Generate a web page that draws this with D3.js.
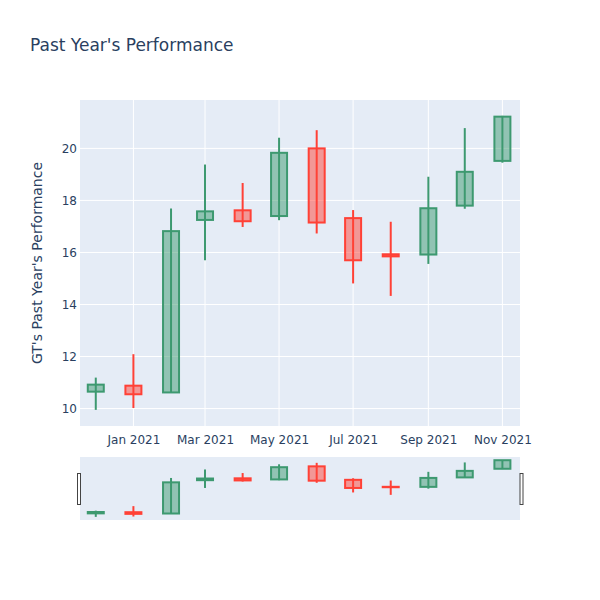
<!DOCTYPE html>
<html><head><meta charset="utf-8">
<script src="https://cdn.jsdelivr.net/npm/d3@7"></script>
<style>body{margin:0;background:#fff;}svg{font-family:"DejaVu Sans",Verdana,Arial,sans-serif;}</style>
</head><body><svg id="c" width="600" height="600"></svg>
<script>
const dates = ["2020-12-01","2021-01-01","2021-02-01","2021-03-01","2021-04-01","2021-05-01","2021-06-01","2021-07-01","2021-08-01","2021-09-01","2021-10-01","2021-11-01"];
const open  = [10.65, 10.88, 10.62, 17.25, 17.62, 17.40, 20.00, 17.32, 15.93, 15.92, 17.80, 19.52];
const high  = [11.19, 12.09, 17.69, 19.38, 18.67, 20.41, 20.70, 17.63, 17.18, 18.91, 20.78, 21.25];
const low   = [ 9.95, 10.02, 10.62, 15.70, 16.98, 17.24, 16.73, 14.81, 14.33, 15.56, 17.68, 19.45];
const close = [10.92, 10.55, 16.82, 17.58, 17.20, 19.83, 17.15, 15.70, 15.85, 17.70, 19.10, 21.22];
const xTicks = ["2021-01-01","2021-03-01","2021-05-01","2021-07-01","2021-09-01","2021-11-01"];
const yTicks = [10, 12, 14, 16, 18, 20];

const parse = d3.utcParse("%Y-%m-%d");
const data = dates.map((d,i)=>({date:parse(d),o:open[i],h:high[i],l:low[i],c:close[i]}));
const svg = d3.select("#c");
const L=80,R=520,T=100,B=426, ST=457, SB=520;
const x = d3.scaleUtc().domain([new Date(Date.UTC(2020,10,18)), new Date(Date.UTC(2021,10,15,12))]).range([L,R]);
const y = d3.scaleLinear().domain([9.33,21.86]).range([B,T]);
const ys = d3.scaleLinear().domain([9.33,21.86]).range([SB,ST]);
const txt="#2a3f5f", inc="#3D9970", dec="#FF4136";

svg.append("rect").attr("x",L).attr("y",T).attr("width",R-L).attr("height",B-T).attr("fill","#E5ECF6");
svg.append("g").selectAll("line").data(yTicks).join("line")
  .attr("x1",L).attr("x2",R).attr("y1",d=>y(d)).attr("y2",d=>y(d)).attr("stroke","#fff").attr("stroke-width",1);
svg.append("g").selectAll("line").data(xTicks.map(parse)).join("line")
  .attr("y1",T).attr("y2",B).attr("x1",d=>x(d)).attr("x2",d=>x(d)).attr("stroke","#fff").attr("stroke-width",1);

const xa = svg.append("g").attr("transform",`translate(0,${B})`)
  .call(d3.axisBottom(x).tickValues(xTicks.map(parse)).tickFormat(d3.utcFormat("%b %Y")).tickSize(0).tickPadding(9));
xa.select(".domain").remove();
xa.selectAll("text").attr("fill",txt).style("font-size","12px").style("font-family","DejaVu Sans");
const ya = svg.append("g").attr("transform",`translate(${L},0)`)
  .call(d3.axisLeft(y).tickValues(yTicks).tickSize(0).tickPadding(3));
ya.select(".domain").remove();
ya.selectAll("text").attr("fill",txt).style("font-size","12px").style("font-family","DejaVu Sans");

function candles(g, ys){
  const bw=16;
  const gg = g.selectAll("g.cd").data(data).join("g").attr("class","cd");
  gg.append("line").attr("x1",d=>x(d.date)).attr("x2",d=>x(d.date))
    .attr("y1",d=>ys(d.h)).attr("y2",d=>ys(d.l))
    .attr("stroke",d=>d.c>=d.o?inc:dec).attr("stroke-width",2);
  gg.append("rect").attr("x",d=>x(d.date)-bw/2).attr("width",bw)
    .attr("y",d=>ys(Math.max(d.o,d.c))).attr("height",d=>Math.max(0.01,Math.abs(ys(d.o)-ys(d.c))))
    .attr("fill",d=>d.c>=d.o?inc:dec).attr("fill-opacity",0.5)
    .attr("stroke",d=>d.c>=d.o?inc:dec).attr("stroke-width",2);
}
svg.append("clipPath").attr("id","cp").append("rect").attr("x",L).attr("y",T).attr("width",R-L).attr("height",B-T);
candles(svg.append("g").attr("clip-path","url(#cp)"), y);

svg.append("rect").attr("x",L).attr("y",ST).attr("width",R-L).attr("height",SB-ST).attr("fill","#E5ECF6");
candles(svg.append("g"), ys);
[L-2, R+0.5].forEach(hx=>{
  svg.append("rect").attr("x",hx-0.5).attr("y",473.5).attr("width",3).attr("height",31)
    .attr("fill","#fff").attr("stroke","#444").attr("stroke-width",1);
});

svg.append("text").attr("x",30).attr("y",51).attr("fill",txt).style("font-size","17px").text("Past Year's Performance");
svg.append("text").attr("transform",`translate(41.5,${(T+B)/2}) rotate(-90)`).attr("text-anchor","middle")
  .attr("fill",txt).style("font-size","14px").text("GT's Past Year's Performance");
</script></body></html>
